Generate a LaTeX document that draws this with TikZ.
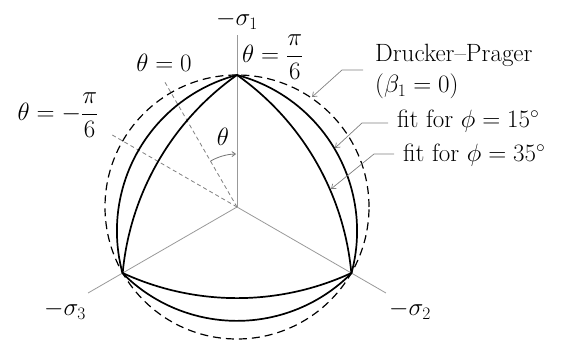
\RequirePackage{fix-cm}
\documentclass[tikz,border=0pt]{standalone}
\usetikzlibrary{arrows.meta,calc}
\begin{document}
\begin{tikzpicture}[x=1pt,y=1pt,
  lbl/.style={font=\fontsize{25}{29}\selectfont, inner sep=0pt},
  axisline/.style={draw=black!40, line width=0.8pt},
  guide/.style={draw=black!50, line width=0.8pt, dash pattern=on 4pt off 3pt},
  anglearrow/.style={draw=black!55, line width=0.8pt, -{Straight Barb[length=3.5pt,width=5pt]}},
  yieldcurve/.style={draw=black, line width=1.7pt, line join=round},
  dpcircle/.style={draw=black, line width=1.2pt, dash pattern=on 8pt off 5pt},
  leader/.style={draw=black!50, line width=0.7pt, -{Straight Barb[length=4pt,width=6pt]}},
]
\useasboundingbox (0,0) rectangle (567,340);
\coordinate (O) at (237,133);
% axes
\coordinate (A1) at ($(O)+(90:172)$);
\coordinate (A2) at ($(O)+(330:172)$);
\coordinate (A3) at ($(O)+(210:172)$);
\draw[axisline] (O) -- (A1);
\draw[axisline] (O) -- (A2);
\draw[axisline] (O) -- (A3);
% theta guide lines
\coordinate (G0) at ($(O)+(120:145)$);
\coordinate (Gm) at ($(O)+(150:145)$);
\draw[guide] (O) -- (G0);
\draw[guide] (O) -- (Gm);
\coordinate (Ta) at ($(O)+(120:53)$);
\draw[anglearrow] (Ta) arc[start angle=120, end angle=91, radius=53];
% Drucker-Prager circle
\draw[dpcircle] (O) circle[radius=132];
% vertices
\coordinate (V1) at ($(O)+(90:132)$);
% fit phi=15
\draw[yieldcurve] (V1)
  arc[start angle=104.8, end angle=195.2, radius=161.3]
  arc[start angle=224.8, end angle=315.2, radius=161.3]
  arc[start angle=344.8, end angle=435.2, radius=161.3] -- cycle;
% fit phi=35
\draw[yieldcurve] (V1)
  arc[start angle=125.25, end angle=174.75, radius=273.1]
  arc[start angle=245.25, end angle=294.75, radius=273.1]
  arc[start angle=365.25, end angle=414.75, radius=273.1] -- cycle;
% labels
\node[lbl] (s1) at (237,320) {$-\sigma_1$};
\node[lbl, anchor=west] (t6) at (242,283) {$\theta=\displaystyle\frac{\pi}{6}$};
\node[lbl] (t0) at (164,277) {$\theta=0$};
\node[lbl] (tm6) at (58,225) {$\theta=-\displaystyle\frac{\pi}{6}$};
\node[lbl] (th) at (223,203) {$\theta$};
\node[lbl] (s3) at (65,30) {$-\sigma_3$};
\node[lbl] (s2) at (410,30) {$-\sigma_2$};
\node[lbl, anchor=base west] (dp) at (375,278) {Drucker--Prager};
\node[lbl, anchor=base west] (b1) at (375,247) {$(\beta_1=0)$};
\node[lbl, anchor=base west] (f15) at (397,212) {fit for $\phi=15^\circ$};
\node[lbl, anchor=base west] (f35) at (403,178) {fit for $\phi=35^\circ$};
% leaders
\coordinate (dpL) at (363,270); \coordinate (dpK) at (342,270); \coordinate (dpT) at (312,243);
\draw[leader] (dpL) -- (dpK) -- (dpT);
\coordinate (f15L) at (388,217); \coordinate (f15K) at (362,217); \coordinate (f15T) at (335,192);
\draw[leader] (f15L) -- (f15K) -- (f15T);
\coordinate (f35L) at (394,186); \coordinate (f35K) at (374,186); \coordinate (f35T) at (331,151);
\draw[leader] (f35L) -- (f35K) -- (f35T);
\end{tikzpicture}
\end{document}
